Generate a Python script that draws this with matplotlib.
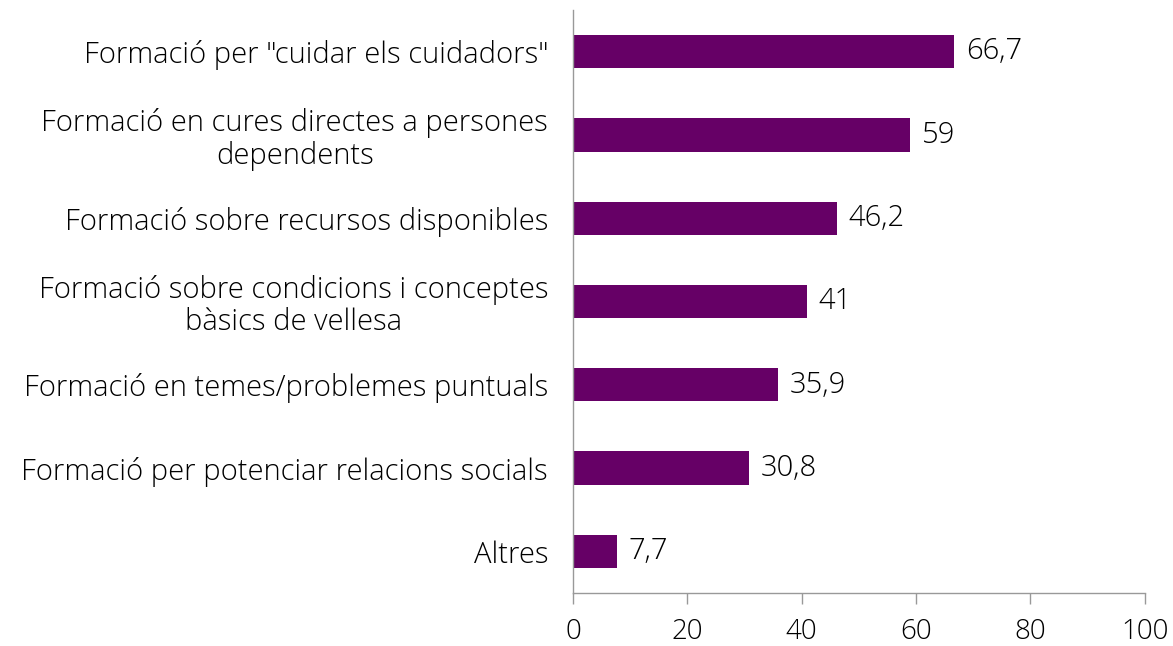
import matplotlib.pyplot as plt

categories = [
    'Formació per "cuidar els cuidadors"',
    'Formació en cures directes a persones\ndependents',
    'Formació sobre recursos disponibles',
    'Formació sobre condicions i conceptes\nbàsics de vellesa',
    'Formació en temes/problemes puntuals',
    'Formació per potenciar relacions socials',
    'Altres',
]
values = [66.7, 59, 46.2, 41, 35.9, 30.8, 7.7]
value_labels = ['66,7', '59', '46,2', '41', '35,9', '30,8', '7,7']
xticks = [0, 20, 40, 60, 80, 100]

plt.rcParams['font.family'] = ['Open Sans', 'DejaVu Sans']
plt.rcParams['font.weight'] = 'light'

fig = plt.figure(figsize=(11.73, 6.46), dpi=100)
ax = fig.add_axes([0.4885, 0.082, 0.4875, 0.9025])

pos = list(range(len(categories)))
ax.barh(pos, values, height=0.4, color='#660066')
for p, v, lab in zip(pos, values, value_labels):
    ax.text(v + 2, p, lab, va='center', ha='left', fontsize=21, color='black')

ax.set_ylim(len(categories) - 0.5, -0.5)
ax.set_xlim(0, 100)
ax.set_yticks(pos)
ax.set_yticklabels(categories, fontsize=21, multialignment='center', linespacing=1.12)
ax.set_xticks(xticks)
ax.set_xticklabels([str(t) for t in xticks], fontsize=20)
ax.tick_params(axis='y', length=0, pad=18)
ax.tick_params(axis='x', length=8, width=1, color='#999999', pad=10, direction='out')

for s in ['top', 'right']:
    ax.spines[s].set_visible(False)
for s in ['left', 'bottom']:
    ax.spines[s].set_color('#999999')
    ax.spines[s].set_linewidth(1)

fig.savefig('out.png', dpi=100)
